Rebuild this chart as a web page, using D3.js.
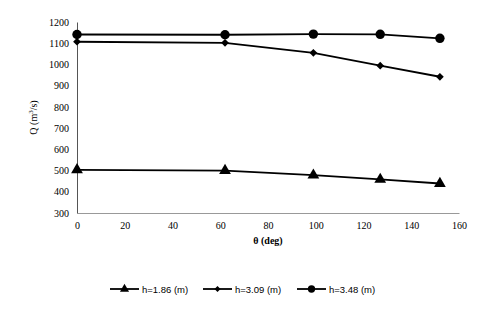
<!DOCTYPE html>
<html>
<head>
<meta charset="utf-8">
<script src="https://cdn.jsdelivr.net/npm/d3@7"></script>
<style>
  body { margin: 0; background: #fff; }
  svg .tick text { font-family: 'Liberation Serif', 'DejaVu Serif', serif; font-size: 10px; }
</style>
</head>
<body>
<div id="chart"></div>
<script>
const theta = [0, 62, 99, 127, 152];
const q186 = [503, 500, 478, 458, 439];
const q309 = [1107, 1102, 1055, 994, 942];
const q348 = [1141, 1140, 1143, 1142, 1123];
const seriesNames = ['h=1.86 (m)', 'h=3.09 (m)', 'h=3.48 (m)'];
const xTicks = [0, 20, 40, 60, 80, 100, 120, 140, 160];
const yTicks = [300, 400, 500, 600, 700, 800, 900, 1000, 1100, 1200];

const totalWidth = 480;
const totalHeight = 309;
const margin = {top: 22, right: 21, bottom: 96, left: 77};
const width = totalWidth - margin.left - margin.right;
const height = totalHeight - margin.top - margin.bottom;

let x = d3.scaleLinear().domain([0, 160]).range([0, width]);
let y = d3.scaleLinear().domain([300, 1200]).range([height, 0]);

let svg = d3.select('#chart').append('svg')
    .attr('width', totalWidth)
    .attr('height', totalHeight);

let g = svg.append('g')
    .attr('transform', 'translate(' + margin.left + ',' + margin.top + ')');

let axisBottom = g.append('g')
    .attr('transform', 'translate(0,' + height + ')')
    .call(d3.axisBottom(x).tickValues(xTicks).tickSize(0).tickPadding(9).tickFormat(d3.format('d')));
axisBottom.select('.domain').attr('stroke', '#999');

let axisLeft = g.append('g')
    .call(d3.axisLeft(y).tickValues(yTicks).tickSize(0).tickPadding(8).tickFormat(d3.format('d')));
axisLeft.select('.domain').attr('stroke', '#555');

// axis titles
g.append('text')
    .attr('x', width / 2)
    .attr('y', height + 31)
    .attr('text-anchor', 'middle')
    .style('font-family', 'Liberation Serif, serif')
    .style('font-weight', 'bold')
    .style('font-size', '10px')
    .text('θ (deg)');

g.append('text')
    .attr('transform', 'translate(-40,' + (height / 2) + ') rotate(-90)')
    .attr('text-anchor', 'middle')
    .style('font-family', 'Liberation Serif, serif')
    .style('font-size', '10px')
    .html('Q (m<tspan dy="-4" font-size="7px">3</tspan><tspan dy="4">/s)</tspan>');

const series = [q186, q309, q348];
const symbols = [d3.symbolTriangle, d3.symbolSquare, d3.symbolCircle];
const sizes = [60, 30, 70];
const rotations = [0, 45, 0];

let line = d3.line()
    .x(function(d, i) { return x(theta[i]); })
    .y(function(d) { return y(d); });

series.forEach(function(s, k) {
  g.append('path')
      .datum(s)
      .attr('fill', 'none')
      .attr('stroke', '#000')
      .attr('stroke-width', 1.8)
      .attr('d', line);

  g.selectAll('.pt' + k).data(s).enter()
    .append('path')
      .attr('class', 'pt' + k)
      .attr('transform', function(d, i) {
        return 'translate(' + x(theta[i]) + ',' + y(d) + ') rotate(' + rotations[k] + ')';
      })
      .attr('d', d3.symbol().type(symbols[k]).size(sizes[k]))
      .attr('fill', '#000');
});

// legend
const legendX = [110, 203, 297];
let legend = svg.append('g').attr('transform', 'translate(0,289)');
seriesNames.forEach(function(name, k) {
  let item = legend.append('g').attr('transform', 'translate(' + legendX[k] + ',0)');
  item.append('line')
      .attr('x1', 0).attr('x2', 29)
      .attr('stroke', '#000').attr('stroke-width', 1.8);
  item.append('path')
      .attr('transform', 'translate(14.5,0) rotate(' + rotations[k] + ')')
      .attr('d', d3.symbol().type(symbols[k]).size(sizes[k] * 0.6))
      .attr('fill', '#000');
  item.append('text')
      .attr('x', 32)
      .attr('y', 3.5)
      .style('font-family', 'Liberation Sans, sans-serif')
      .style('font-size', '9.5px')
      .text(name);
});
</script>
</body>
</html>
